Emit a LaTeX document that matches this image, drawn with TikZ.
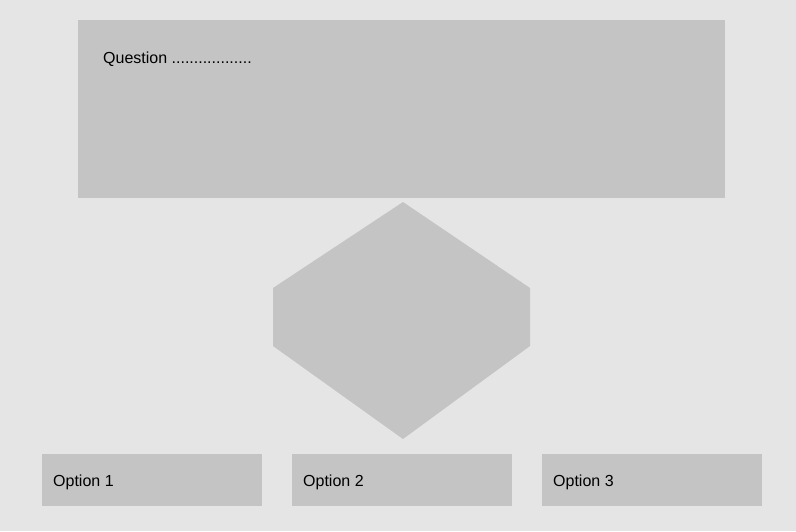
\documentclass[tikz,border=0pt]{standalone}
\usepackage{fontspec}
\setmainfont{Liberation Sans}
\usetikzlibrary{positioning}
\definecolor{pagegray}{HTML}{E5E5E5}
\definecolor{boxgray}{HTML}{C4C4C4}
\tikzset{
	box/.style={fill=boxgray, draw=none, inner sep=0pt, anchor=north west},
	optbox/.style={box, minimum width=220pt, minimum height=52pt},
	boxtext/.style={anchor=base west, inner sep=0pt, font=\fontsize{16}{19}\selectfont}
}

\begin{document}
\begin{tikzpicture}[x=1pt, y=-1pt]
	%%%%% START %%%%%
	\fill[pagegray] (0, 0) rectangle (796, 531);
	\useasboundingbox (0, 0) rectangle (796, 531);
	
	% question
	\node[box, minimum width=647pt, minimum height=178pt] (question) at (78, 20) {};
	\node[boxtext] (qtext) at (103, 63) {Question ..................};
	
	% hexagon
	\fill[boxgray] (403, 202) -- (530, 288) -- (530, 346) -- (403, 439)
		-- (273, 346) -- (273, 288) -- cycle;
	
	% options
	\node[optbox] (opt1) at (42, 454) {};
	\node[optbox] (opt2) at (292, 454) {};
	\node[optbox] (opt3) at (542, 454) {};
	\node[boxtext] (otext1) at (53, 486) {Option 1};
	\node[boxtext] (otext2) at (303, 486) {Option 2};
	\node[boxtext] (otext3) at (553, 486) {Option 3};
	%%%%% END %%%%%
\end{tikzpicture}
\end{document}
